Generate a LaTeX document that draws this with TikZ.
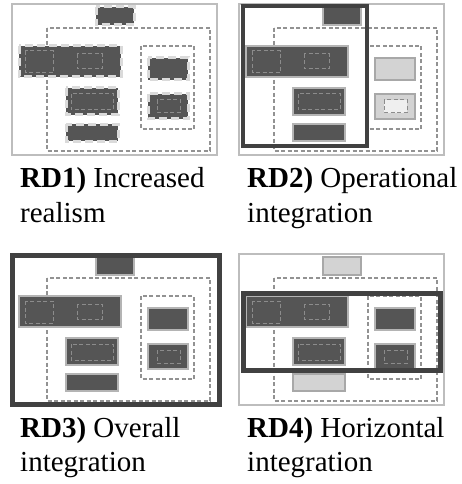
\documentclass[tikz,border=0pt]{standalone}
\usepackage{fontspec}
\setmainfont{Liberation Serif}
\definecolor{boxdark}{HTML}{555555}
\definecolor{boxedge}{HTML}{B4B4B4}
\definecolor{boxlight}{HTML}{D3D3D3}
\definecolor{lightedge}{HTML}{A8A8A8}
\definecolor{zoneline}{HTML}{929292}
\definecolor{innerline}{HTML}{8C8C8C}
\definecolor{frameline}{HTML}{BDBDBD}
\definecolor{focusline}{HTML}{414141}
\definecolor{realline}{HTML}{DADADA}
\definecolor{paleinner}{HTML}{EFEFEF}

\tikzset{
  frame/.style={draw=frameline, line width=1.1pt},
  zone/.style={draw=zoneline, line width=1.2pt, dash pattern=on 4pt off 2.5pt},
  dark/.style={fill=boxdark, draw=boxedge, line width=1.2pt},
  light/.style={fill=boxlight, draw=lightedge, line width=1.2pt},
  inner/.style={draw=innerline, line width=1pt, dash pattern=on 4pt off 2.5pt},
  real/.style={draw=realline, line width=3pt, dash pattern=on 8pt off 4pt},
  focus/.style={draw=focusline, line width=4.5pt},
  caption/.style={anchor=base west, inner sep=0pt, font=\fontsize{29}{34}\selectfont},
}

% One copy of the architecture sketch.
% #1 top box, #2 main boxes, #3 bottom box, #4 right boxes, #5 fill of the small inner box
\newcommand\archsketch[5]{%
  \draw[zone] (47,28) rectangle (210,151);
  \draw[zone] (141,46) rectangle (194,129);
  \path[#1] (96,7) rectangle (134,25);
  \path[#2] (19,46) rectangle (121,77);
  \draw[inner] (25,51) rectangle (53,73);
  \draw[inner] (77,54) rectangle (102,69);
  \path[#2] (66,88) rectangle (118,115);
  \draw[inner] (71,94) rectangle (113,110);
  \path[#3] (66,124) rectangle (118,141);
  \path[#4] (148,58) rectangle (188,80);
  \path[#4] (148,94) rectangle (188,119);
  \draw[inner,#5] (157,100) rectangle (180,113);
}

\begin{document}
\begin{tikzpicture}[x=1pt,y=-1pt]
\useasboundingbox (0,0) rectangle (461,484);

% RD1
\begin{scope}
  \draw[frame] (12,4) rectangle (217,155);
  \archsketch{dark,real}{dark,real}{dark,real}{dark,real}{}
\end{scope}

% RD2
\begin{scope}[shift={(227,0)}]
  \draw[frame] (12,4) rectangle (217,155);
  \archsketch{dark}{dark}{dark}{light}{fill=paleinner}
  \draw[focus] (16,6) rectangle (140,146);
\end{scope}

% RD3
\begin{scope}[shift={(0,250)}]
  \archsketch{dark}{dark}{dark}{dark}{}
  \draw[focus] (12.5,5.5) rectangle (219.5,154.5);
\end{scope}

% RD4
\begin{scope}[shift={(227,250)}]
  \draw[frame] (12,4) rectangle (217,155);
  \archsketch{light}{dark}{light}{dark}{}
  \draw[focus] (16.5,43.5) rectangle (213.5,120.5);
\end{scope}

% captions
\node[caption] (c1a) at (20,187) {\textbf{RD1)} Increased};
\node[caption] (c1b) at (20,222) {realism};
\node[caption] (c2a) at (247,187) {\textbf{RD2)} Operational};
\node[caption] (c2b) at (247,222) {integration};
\node[caption] (c3a) at (20,437) {\textbf{RD3)} Overall};
\node[caption] (c3b) at (20,471) {integration};
\node[caption] (c4a) at (247,437) {\textbf{RD4)} Horizontal};
\node[caption] (c4b) at (247,471) {integration};
\end{tikzpicture}
\end{document}
